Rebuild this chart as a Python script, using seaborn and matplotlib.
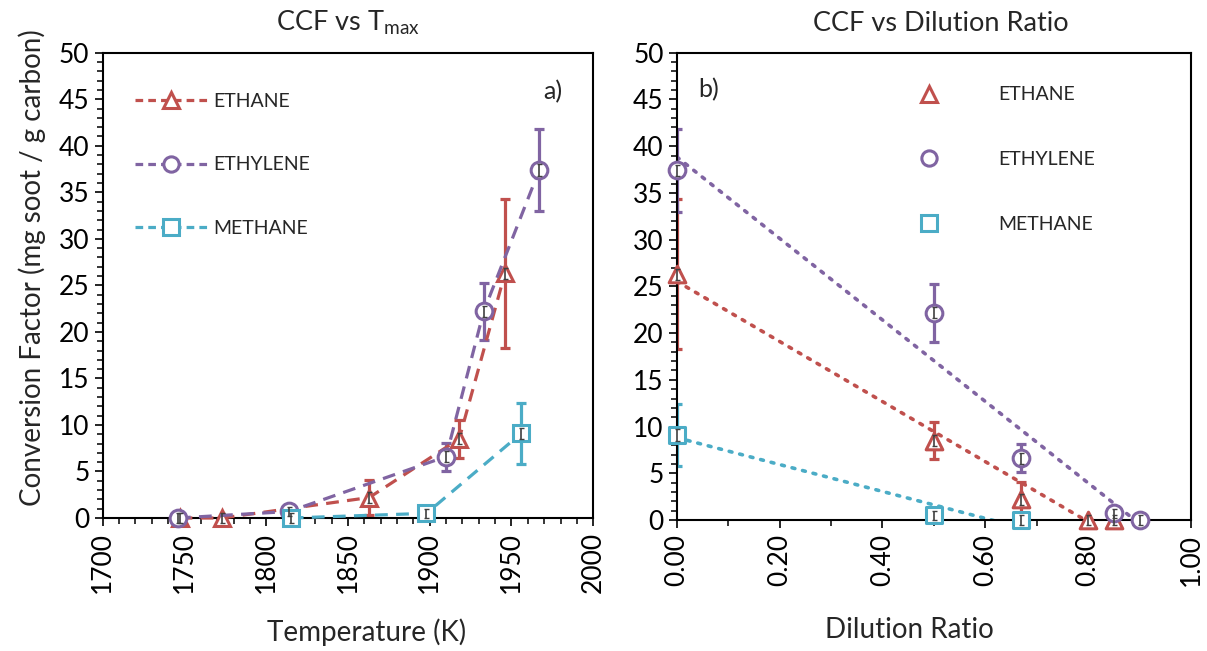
import numpy as np
import pandas as pd
import matplotlib
matplotlib.use("Agg")
import matplotlib.pyplot as plt
import seaborn as sns
from matplotlib.ticker import MultipleLocator, FormatStrFormatter
from matplotlib.lines import Line2D

# ---------------- data ----------------
fuels = ["ETHANE", "ETHYLENE", "METHANE"]

ethane_T = [1747, 1773, 1863, 1918, 1946]
ethane_dil = [0.85, 0.80, 0.67, 0.50, 0.00]
ethane_ccf = [0.0, 0.0, 2.2, 8.5, 26.3]
ethane_err = [0.0, 0.0, 1.9, 2.0, 8.0]
ethane_inner = [0.5, 0.5, 0.6, 0.6, 0.6]

ethylene_T = [1746, 1814, 1910, 1933, 1967]
ethylene_dil = [0.90, 0.85, 0.67, 0.50, 0.00]
ethylene_ccf = [0.0, 0.7, 6.6, 22.2, 37.4]
ethylene_err = [0.0, 0.0, 1.5, 3.1, 4.4]
ethylene_inner = [0.5, 0.5, 0.6, 0.6, 0.6]

methane_T = [1815, 1898, 1956]
methane_dil = [0.67, 0.50, 0.00]
methane_ccf = [0.0, 0.5, 9.1]
methane_err = [0.0, 0.3, 3.3]
methane_inner = [0.5, 0.5, 0.6]

x1_ticks = [1700, 1750, 1800, 1850, 1900, 1950, 2000]
x2_ticks = [0.0, 0.2, 0.4, 0.6, 0.8, 1.0]
y_ticks = [0, 5, 10, 15, 20, 25, 30, 35, 40, 45, 50]

colors = {"ETHANE": "#C0504D", "ETHYLENE": "#8064A2", "METHANE": "#4BACC6"}
markers = {"ETHANE": "^", "ETHYLENE": "o", "METHANE": "s"}

frames = []
for name, T, d, c, e, ie in [
        ("ETHANE", ethane_T, ethane_dil, ethane_ccf, ethane_err, ethane_inner),
        ("ETHYLENE", ethylene_T, ethylene_dil, ethylene_ccf, ethylene_err, ethylene_inner),
        ("METHANE", methane_T, methane_dil, methane_ccf, methane_err, methane_inner)]:
    frames.append(pd.DataFrame({"fuel": name, "T": T, "dil": d, "ccf": c, "err": e,
                                "inner": ie}))
df = pd.concat(frames, ignore_index=True)

# ---------------- style ----------------
sns.set_theme(style="ticks")
plt.rcParams["font.family"] = ["Lato", "DejaVu Sans"]
plt.rcParams["mathtext.default"] = "regular"
plt.rcParams["axes.linewidth"] = 1.5

TICK_FS = 19
LAB_FS = 20
TITLE_FS = 19.5
LEG_FS = 14
GRAY = "#404040"

fig = plt.figure(figsize=(12.07, 6.51), dpi=100)
ax1 = fig.add_axes([0.0851, 0.2043, 0.4064, 0.7147])
ax2 = fig.add_axes([0.5607, 0.2012, 0.4261, 0.7178])

ms = 12
mew = 2.2
lw = 2.3

# ---------------- left panel ----------------
for f in fuels:
    sub = df[df.fuel == f].sort_values("T")
    c = colors[f]
    ax1.errorbar(sub["T"], sub["ccf"], yerr=sub["err"], fmt="none", ecolor=c,
                 elinewidth=2.3, capsize=3.8, capthick=2.3, zorder=2)
    sns.lineplot(data=sub, x="T", y="ccf", ax=ax1, color=c, errorbar=None,
                 marker=markers[f], markersize=ms, markerfacecolor="white",
                 markeredgecolor=c, markeredgewidth=mew, linewidth=lw,
                 linestyle=(0, (4.0, 2.6)), clip_on=False, zorder=3, legend=False)
    ax1.errorbar(sub["T"], sub["ccf"], yerr=sub["inner"], fmt="none", ecolor=GRAY,
                 elinewidth=1.2, capsize=1.8, capthick=1.0, zorder=4, clip_on=False)

ax1.set_xlim(1700, 2000)
ax1.set_ylim(0, 50)
ax1.set_xticks(x1_ticks)
ax1.set_yticks(y_ticks)
ax1.xaxis.set_minor_locator(MultipleLocator(10))
ax1.yaxis.set_minor_locator(MultipleLocator(1))
ax1.set_xlabel("Temperature (K)", fontsize=LAB_FS)
ax1.xaxis.set_label_coords(0.537, -0.215)
ax1.set_ylabel("Conversion Factor (mg soot / g carbon)", fontsize=LAB_FS)
ax1.yaxis.set_label_coords(-0.115, 0.538)
ax1.set_title("CCF vs T$_{max}$", fontsize=TITLE_FS, pad=16)
ax1.text(0.918, 0.916, "a)", transform=ax1.transAxes, ha="center", va="center",
         fontsize=18)

h1 = [Line2D([], [], color=colors[f], marker=markers[f], markersize=ms - 1,
             markerfacecolor="white", markeredgecolor=colors[f], markeredgewidth=mew,
             linewidth=lw, linestyle=(0, (2.4, 1.6))) for f in fuels]
ax1.legend(h1, fuels, loc="upper left", bbox_to_anchor=(0.066, 0.913), frameon=False,
           fontsize=LEG_FS, handlelength=3.7, handletextpad=0.3, labelspacing=2.38,
           borderpad=0, borderaxespad=0)

# ---------------- right panel ----------------
for f in fuels:
    sub = df[df.fuel == f].sort_values("dil")
    c = colors[f]
    sns.regplot(data=sub, x="dil", y="ccf", ax=ax2, scatter=False, ci=None,
                truncate=True, color=c,
                line_kws=dict(linestyle=(0, (0.8, 2.2)), linewidth=2.6,
                              dash_capstyle="round", zorder=1))
    ax2.errorbar(sub["dil"], sub["ccf"], yerr=sub["err"], fmt="none", ecolor=c,
                 elinewidth=2.3, capsize=3.8, capthick=2.3, zorder=2)
    sns.scatterplot(data=sub, x="dil", y="ccf", ax=ax2, marker=markers[f], s=ms ** 2,
                    color="white", edgecolor=c, linewidth=mew, clip_on=False,
                    zorder=3, legend=False)
    ax2.errorbar(sub["dil"], sub["ccf"], yerr=sub["inner"], fmt="none", ecolor=GRAY,
                 elinewidth=1.2, capsize=1.8, capthick=1.0, zorder=4, clip_on=False)

ax2.set_xlim(0, 1)
ax2.set_ylim(0, 50)
ax2.set_xticks(x2_ticks)
ax2.set_yticks(y_ticks)
ax2.xaxis.set_major_formatter(FormatStrFormatter("%.2f"))
ax2.xaxis.set_minor_locator(MultipleLocator(0.1))
ax2.yaxis.set_minor_locator(MultipleLocator(1))
ax2.set_xlabel("Dilution Ratio", fontsize=LAB_FS)
ax2.xaxis.set_label_coords(0.452, -0.208)
ax2.set_ylabel("")
ax2.set_title("CCF vs Dilution Ratio", fontsize=TITLE_FS, pad=16, x=0.513)
ax2.text(0.061, 0.920, "b)", transform=ax2.transAxes, ha="center", va="center",
         fontsize=18)

h2 = [Line2D([], [], color=colors[f], marker=markers[f], markersize=ms - 1,
             markerfacecolor="white", markeredgecolor=colors[f], markeredgewidth=mew,
             linestyle="none") for f in fuels]
ax2.legend(h2, fuels, loc="upper left", bbox_to_anchor=(0.471, 0.928), frameon=False,
           fontsize=LEG_FS, handlelength=1.0, handletextpad=3.05, labelspacing=2.45,
           borderpad=0, borderaxespad=0)

for ax in (ax1, ax2):
    for s in ax.spines.values():
        s.set_color("black")
        s.set_linewidth(1.5)
    ax.tick_params(axis="both", which="major", direction="out", length=6, width=1.2,
                   labelsize=TICK_FS, colors="black")
    ax.tick_params(axis="both", which="minor", direction="out", length=4, width=1.1,
                   colors="black")
    ax.tick_params(axis="x", which="major", labelrotation=90, pad=4)
    ax.set_facecolor("white")

fig.savefig("out.png", dpi=100, facecolor="white")
